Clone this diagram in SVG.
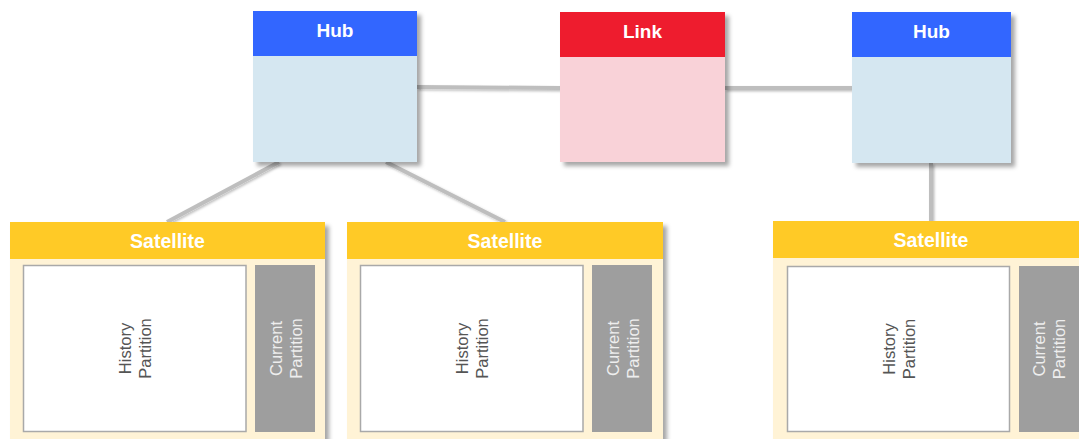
<svg xmlns="http://www.w3.org/2000/svg" width="1079" height="439" viewBox="0 0 1079 439">
<defs>
<filter id="sh" x="-10%" y="-10%" width="130%" height="130%">
<feDropShadow dx="4" dy="4" stdDeviation="2" flood-color="#000" flood-opacity="0.35"/>
</filter>
<filter id="lsh" x="-10%" y="-10%" width="130%" height="130%">
<feDropShadow dx="1.5" dy="1.5" stdDeviation="1" flood-color="#000" flood-opacity="0.25"/>
</filter>
<style>
.conn{stroke:#BEBEBE;stroke-width:4;fill:none}
.hubh{fill:#3366FF}
.hubb{fill:#D5E7F1}
.linkh{fill:#EE1C2F}
.linkb{fill:#F9D2D8}
.sath{fill:#FFCA28}
.satb{fill:#FFF3D6}
.hist{fill:#FFFFFF;stroke:#A9A9A9;stroke-width:1.5}
.cur{fill:#9E9E9E}
.title{font-family:"Liberation Sans",Arial,sans-serif;font-weight:bold;fill:#FFFFFF;text-anchor:middle}
.rt{font-family:"Liberation Sans",Arial,sans-serif;font-size:16.5px;text-anchor:middle}
.ht{fill:#555555}
.ct{fill:#EEEEEE}
</style>
</defs>
<g id="connectors" filter="url(#lsh)">
<line class="conn" x1="417" y1="87" x2="560" y2="88"/>
<line class="conn" x1="725" y1="88" x2="852" y2="88"/>
<line class="conn" x1="279" y1="162" x2="167" y2="222"/>
<line class="conn" x1="386" y1="162" x2="505" y2="222"/>
<line class="conn" x1="931" y1="163" x2="931" y2="221"/>
</g>
<g id="hub1">
<g filter="url(#sh)">
<rect class="hubb" x="253" y="11" width="164" height="151"/>
<rect class="hubh" x="253" y="11" width="164" height="45"/>
</g>
<text class="title" x="335" y="37" font-size="19">Hub</text>
</g>
<g id="link">
<g filter="url(#sh)">
<rect class="linkb" x="560" y="12" width="165" height="150"/>
<rect class="linkh" x="560" y="12" width="165" height="45"/>
</g>
<text class="title" x="642.5" y="38" font-size="19">Link</text>
</g>
<g id="hub2">
<g filter="url(#sh)">
<rect class="hubb" x="852" y="12" width="159" height="151"/>
<rect class="hubh" x="852" y="12" width="159" height="45"/>
</g>
<text class="title" x="931.5" y="38" font-size="19">Hub</text>
</g>
<g id="satellite1">
<g filter="url(#sh)">
<rect class="satb" x="10" y="222" width="315" height="225"/>
<rect class="sath" x="10" y="222" width="315" height="37"/>
</g>
<text class="title" x="167.5" y="248" font-size="19.5">Satellite</text>
<rect class="hist" x="23.5" y="265.5" width="222.5" height="166"/>
<rect class="cur" x="255" y="265" width="60" height="167"/>
<text class="rt ht" transform="rotate(-90 135 348.5)" x="135" y="344.5"><tspan x="135">History</tspan><tspan x="135" dy="20">Partition</tspan></text>
<text class="rt ct" transform="rotate(-90 285.5 348.5)" x="285.5" y="344.5"><tspan x="285.5">Current</tspan><tspan x="285.5" dy="20">Partition</tspan></text>
</g>
<g id="satellite2">
<g filter="url(#sh)">
<rect class="satb" x="347" y="222" width="316" height="225"/>
<rect class="sath" x="347" y="222" width="316" height="37"/>
</g>
<text class="title" x="505" y="248" font-size="19.5">Satellite</text>
<rect class="hist" x="360.5" y="265.5" width="222.5" height="166"/>
<rect class="cur" x="592" y="265" width="60" height="167"/>
<text class="rt ht" transform="rotate(-90 472 348.5)" x="472" y="344.5"><tspan x="472">History</tspan><tspan x="472" dy="20">Partition</tspan></text>
<text class="rt ct" transform="rotate(-90 622.5 348.5)" x="622.5" y="344.5"><tspan x="622.5">Current</tspan><tspan x="622.5" dy="20">Partition</tspan></text>
</g>
<g id="satellite3">
<g filter="url(#sh)">
<rect class="satb" x="773" y="221" width="316" height="226"/>
<rect class="sath" x="773" y="221" width="316" height="37"/>
</g>
<text class="title" x="931" y="247" font-size="19.5">Satellite</text>
<rect class="hist" x="787.5" y="266.5" width="222" height="165"/>
<rect class="cur" x="1019" y="266" width="60" height="166"/>
<text class="rt ht" transform="rotate(-90 899 349)" x="899" y="345"><tspan x="899">History</tspan><tspan x="899" dy="20">Partition</tspan></text>
<text class="rt ct" transform="rotate(-90 1049 349)" x="1049" y="345"><tspan x="1049">Current</tspan><tspan x="1049" dy="20">Partition</tspan></text>
</g>
</svg>
